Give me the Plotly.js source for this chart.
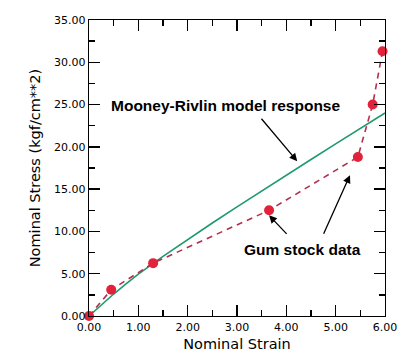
<!DOCTYPE html>
<html>
<head>
<meta charset="utf-8">
<script src="https://cdn.plot.ly/plotly-3.0.1.min.js"></script>
<style>html,body{margin:0;padding:0;background:#fff;}#chart{width:414px;height:364px;}</style>
</head>
<body>
<div id="chart"></div>
<script>
// Gum stock data (measured)
const gumStrain = [0, 0.45, 1.3, 3.65, 5.45, 5.75, 5.95];
const gumStress = [0, 3.1, 6.25, 12.5, 18.8, 25.0, 31.3];
// Mooney-Rivlin model response
const mrStrain = [0, 0.25, 0.5, 0.75, 1.0, 1.5, 2.0, 2.5, 3.0, 3.5, 4.0, 4.5, 5.0, 5.5, 6.0];
const mrStress = [0, 1.35, 2.6, 3.8, 4.95, 7.05, 9.05, 11.0, 12.9, 14.8, 16.65, 18.5, 20.35, 22.2, 24.0];

const tickFont = {family: 'DejaVu Sans, sans-serif', size: 11, color: '#000'};
const titleFont = {family: 'DejaVu Sans, sans-serif', size: 14.5, color: '#000'};
const noteFont = {family: 'Liberation Sans, Arial, sans-serif', size: 15.5, color: '#000', weight: 'bold'};

const traces = [
  {x: mrStrain, y: mrStress, mode: 'lines', line: {color: '#1f9a6c', width: 1.6}, cliponaxis: false, hoverinfo: 'skip'},
  {x: gumStrain, y: gumStress, mode: 'lines+markers', line: {color: '#b2304f', width: 1.6, dash: '6px,5px'},
   marker: {color: '#e2213b', size: 10}, cliponaxis: false, hoverinfo: 'skip'}
];

const axisCommon = {
  showline: true, linecolor: '#000', linewidth: 1.3, mirror: 'allticks',
  ticks: 'inside', ticklen: 11, tickwidth: 1.3, tickcolor: '#000',
  showgrid: false, zeroline: false, tickformat: '.2f', tickfont: tickFont
};

const layout = {
  width: 414, height: 364,
  margin: {l: 89, r: 29, t: 20, b: 48},
  paper_bgcolor: '#fff', plot_bgcolor: '#fff',
  showlegend: false,
  xaxis: Object.assign({}, axisCommon, {range: [0, 6], dtick: 1, tick0: 0,
    minor: {ticks: 'inside', ticklen: 6, dtick: 0.5, tickcolor: '#000', tickwidth: 1.3},
    title: {text: 'Nominal Strain', font: titleFont, standoff: 6}}),
  yaxis: Object.assign({}, axisCommon, {range: [0, 35], dtick: 5, tick0: 0,
    minor: {ticks: 'inside', ticklen: 6, dtick: 2.5, tickcolor: '#000', tickwidth: 1.3},
    title: {text: 'Nominal Stress (kgf/cm**2)', font: titleFont, standoff: 10}}),
  annotations: [
    {x: 2.77, y: 24.9, xref: 'x', yref: 'y', text: 'Mooney-Rivlin model response', showarrow: false, font: noteFont},
    {x: 4.33, y: 7.9, xref: 'x', yref: 'y', text: 'Gum stock data', showarrow: false, font: noteFont},
    {x: 4.22, y: 18.3, xref: 'x', yref: 'y', text: '', showarrow: true, ax: -37, ay: -44, arrowhead: 2, arrowsize: 1.2, arrowwidth: 1.3, arrowcolor: '#000'},
    {x: 3.65, y: 11.9, xref: 'x', yref: 'y', text: '', showarrow: true, ax: 19, ay: 20, arrowhead: 2, arrowsize: 1.2, arrowwidth: 1.3, arrowcolor: '#000'},
    {x: 5.29, y: 16.65, xref: 'x', yref: 'y', text: '', showarrow: true, ax: -27, ay: 60, arrowhead: 2, arrowsize: 1.2, arrowwidth: 1.3, arrowcolor: '#000'}
  ]
};

Plotly.newPlot('chart', traces, layout, {staticPlot: true, displayModeBar: false});
</script>
</body>
</html>
